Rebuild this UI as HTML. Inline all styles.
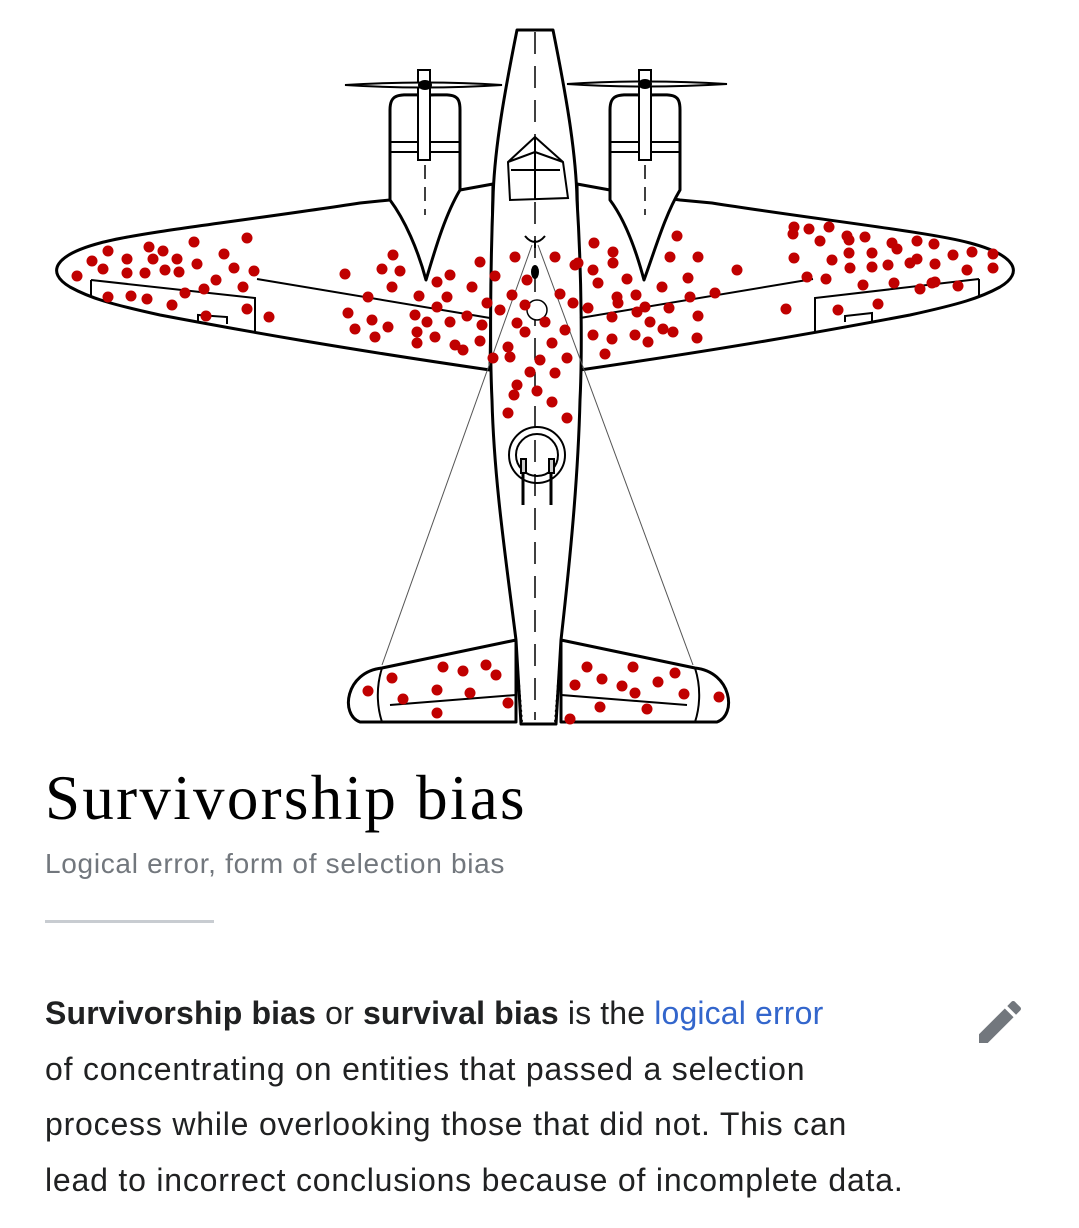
<!DOCTYPE html>
<html><head><meta charset="utf-8"><style>
html,body{margin:0;padding:0;background:#fff;width:1079px;height:1228px;overflow:hidden;position:relative}
svg{position:absolute;left:0;top:0}
.t{position:absolute;left:45px;top:767px;font-family:"Liberation Serif",serif;font-size:63px;color:#000;letter-spacing:2.3px;white-space:nowrap;line-height:1}
.s{position:absolute;left:45px;top:848px;font-family:"Liberation Sans",sans-serif;font-size:28px;color:#72777d;white-space:nowrap;letter-spacing:0.7px}
.d{position:absolute;left:45px;top:920px;width:169px;height:3px;background:#c8ccd1}
.p{position:absolute;left:45px;top:986px;font-family:"Liberation Sans",sans-serif;font-size:32px;line-height:55.5px;color:#202122;white-space:nowrap;letter-spacing:0.8px}
.p .l1{letter-spacing:0.15px}
.p b{font-weight:bold}.p a{color:#3366cc;text-decoration:none}
</style></head><body>
<svg width="1079" height="730" viewBox="0 0 1079 730">
<g fill="#fff" stroke="#000" stroke-width="3" stroke-linejoin="round">
<path d="M493,184 L460,190 L390,200 L360,203 C250,220 140,232 100,243 C55,255 45,272 70,287 C90,298 110,304 160,315 C250,332 340,348 490,370 Z"/>
<path d="M577,184 L610,190 L680,200 L712,203 C820,220 930,232 970,243 C1015,255 1025,272 1000,287 C980,298 960,304 910,315 C820,332 730,348 580,370 Z"/>
<path d="M516,640 L382,668 C345,672 340,715 360,722 L516,722 Z"/>
<path d="M561,640 L695,668 C732,672 737,715 717,722 L561,722 Z"/>
<path d="M517,30 L553,30 C565,90 576,150 577,200 C582,280 582,360 580,400 C578,480 570,560 561,640 L556,724 L521,724 L516,640 C506,560 494,480 492,400 C490,360 490,280 493,200 C494,150 505,90 517,30 Z"/>
<path d="M390,200 L390,110 C390,92 400,95 425,95 C452,95 460,92 460,110 L460,190 C445,215 435,250 426,280 C418,250 405,220 390,200 Z"/>
<path d="M610,200 L610,110 C610,92 620,95 645,95 C672,95 680,92 680,110 L680,190 C665,215 655,250 644,280 C636,250 625,220 610,200 Z"/>
</g>
<g fill="none" stroke="#000" stroke-width="2">
<line x1="390" y1="142" x2="460" y2="142"/><line x1="390" y1="152" x2="460" y2="152"/>
<line x1="610" y1="142" x2="680" y2="142"/><line x1="610" y1="152" x2="680" y2="152"/>
<rect x="418" y="70" width="12" height="90" fill="#fff"/><rect x="639" y="70" width="12" height="90" fill="#fff"/>
<path d="M345,85 Q425,80 502,85 Q425,90 345,85Z" fill="#fff"/>
<path d="M567,84 Q645,79 727,84 Q645,89 567,84Z" fill="#fff"/>
<path d="M91,280 L91,297 M91,280 L255,298 L255,332 M257,279 L490,318 M198,323 L198,315 L227,317 L227,324"/>
<path d="M979,279 L979,297 M979,279 L815,298 L815,332 M813,279 L580,318 M845,322 L845,316 L872,313 L872,321"/>
<path d="M508,162 L535,137 L563,162 L568,198 L510,200 Z M508,162 L535,152 L563,162 M535,137 L535,200 M511,170 L560,170"/>
<circle cx="537" cy="455" r="28"/><circle cx="537" cy="455" r="21"/>
<rect x="521" y="459" width="5" height="14" fill="#ccc"/><rect x="549" y="459" width="5" height="14" fill="#ccc"/>
<path d="M523,473 L523,505 M551,473 L551,505" stroke-width="3"/>
<path d="M382,668 C375,690 378,710 382,722 M695,668 C702,690 699,710 695,722"/>
<path d="M390,705 L516,695 L516,722 M687,705 L561,695 L561,722"/>
<path d="M516,645 L522,722 M561,645 L555,722" stroke-dasharray="2,3"/>
</g>
<g stroke="#000" stroke-width="1.5" fill="none">
<path d="M535,32 L535,720" stroke-dasharray="22,12"/>
<path d="M425,165 L425,215 M645,165 L645,215" stroke-dasharray="14,8"/>
</g>
<g stroke="#555" stroke-width="1" fill="none">
<line x1="532" y1="245" x2="382" y2="665"/><line x1="538" y1="245" x2="693" y2="665"/>
</g>
<circle cx="537" cy="310" r="10" fill="#fff" stroke="#000" stroke-width="1.5"/>
<ellipse cx="535" cy="272" rx="4" ry="7" fill="#000"/>
<path d="M525,236 Q535,248 545,236 M535,240 L535,248" stroke="#000" stroke-width="2" fill="none"/>
<ellipse cx="425" cy="85" rx="7" ry="5" fill="#000"/><ellipse cx="645" cy="84" rx="7" ry="5" fill="#000"/>
<g fill="#c00000">
<circle cx="77" cy="276" r="5.5"/><circle cx="92" cy="261" r="5.5"/><circle cx="103" cy="269" r="5.5"/><circle cx="108" cy="251" r="5.5"/><circle cx="127" cy="259" r="5.5"/><circle cx="127" cy="273" r="5.5"/><circle cx="145" cy="273" r="5.5"/><circle cx="149" cy="247" r="5.5"/><circle cx="153" cy="259" r="5.5"/><circle cx="163" cy="251" r="5.5"/><circle cx="165" cy="270" r="5.5"/><circle cx="177" cy="259" r="5.5"/><circle cx="179" cy="272" r="5.5"/><circle cx="194" cy="242" r="5.5"/><circle cx="197" cy="264" r="5.5"/><circle cx="216" cy="280" r="5.5"/><circle cx="224" cy="254" r="5.5"/><circle cx="234" cy="268" r="5.5"/><circle cx="247" cy="238" r="5.5"/><circle cx="254" cy="271" r="5.5"/><circle cx="243" cy="287" r="5.5"/><circle cx="247" cy="309" r="5.5"/><circle cx="269" cy="317" r="5.5"/><circle cx="206" cy="316" r="5.5"/><circle cx="204" cy="289" r="5.5"/><circle cx="185" cy="293" r="5.5"/><circle cx="172" cy="305" r="5.5"/><circle cx="147" cy="299" r="5.5"/><circle cx="131" cy="296" r="5.5"/><circle cx="108" cy="297" r="5.5"/>
<circle cx="345" cy="274" r="5.5"/><circle cx="348" cy="313" r="5.5"/><circle cx="355" cy="329" r="5.5"/><circle cx="393" cy="255" r="5.5"/><circle cx="382" cy="269" r="5.5"/><circle cx="400" cy="271" r="5.5"/><circle cx="392" cy="287" r="5.5"/><circle cx="368" cy="297" r="5.5"/><circle cx="372" cy="320" r="5.5"/><circle cx="375" cy="337" r="5.5"/><circle cx="388" cy="327" r="5.5"/><circle cx="419" cy="296" r="5.5"/><circle cx="437" cy="282" r="5.5"/><circle cx="450" cy="275" r="5.5"/><circle cx="447" cy="297" r="5.5"/><circle cx="437" cy="307" r="5.5"/><circle cx="415" cy="315" r="5.5"/><circle cx="427" cy="322" r="5.5"/><circle cx="417" cy="332" r="5.5"/><circle cx="417" cy="343" r="5.5"/><circle cx="435" cy="337" r="5.5"/><circle cx="450" cy="322" r="5.5"/><circle cx="455" cy="345" r="5.5"/><circle cx="463" cy="350" r="5.5"/><circle cx="467" cy="316" r="5.5"/><circle cx="472" cy="287" r="5.5"/><circle cx="480" cy="262" r="5.5"/><circle cx="482" cy="325" r="5.5"/><circle cx="480" cy="341" r="5.5"/><circle cx="487" cy="303" r="5.5"/><circle cx="495" cy="276" r="5.5"/><circle cx="500" cy="310" r="5.5"/><circle cx="493" cy="358" r="5.5"/><circle cx="510" cy="357" r="5.5"/><circle cx="508" cy="347" r="5.5"/><circle cx="515" cy="257" r="5.5"/><circle cx="512" cy="295" r="5.5"/><circle cx="517" cy="323" r="5.5"/><circle cx="525" cy="332" r="5.5"/><circle cx="527" cy="280" r="5.5"/><circle cx="525" cy="305" r="5.5"/><circle cx="545" cy="322" r="5.5"/><circle cx="560" cy="294" r="5.5"/><circle cx="555" cy="257" r="5.5"/><circle cx="573" cy="303" r="5.5"/><circle cx="565" cy="330" r="5.5"/><circle cx="552" cy="343" r="5.5"/><circle cx="567" cy="358" r="5.5"/><circle cx="540" cy="360" r="5.5"/><circle cx="530" cy="372" r="5.5"/><circle cx="555" cy="373" r="5.5"/>
<circle cx="517" cy="385" r="5.5"/><circle cx="537" cy="391" r="5.5"/><circle cx="514" cy="395" r="5.5"/><circle cx="508" cy="413" r="5.5"/><circle cx="552" cy="402" r="5.5"/><circle cx="567" cy="418" r="5.5"/>
<circle cx="575" cy="265" r="5.5"/><circle cx="578" cy="263" r="5.5"/><circle cx="594" cy="243" r="5.5"/><circle cx="613" cy="252" r="5.5"/><circle cx="613" cy="263" r="5.5"/><circle cx="593" cy="270" r="5.5"/><circle cx="598" cy="283" r="5.5"/><circle cx="627" cy="279" r="5.5"/><circle cx="588" cy="308" r="5.5"/><circle cx="612" cy="317" r="5.5"/><circle cx="617" cy="297" r="5.5"/><circle cx="618" cy="303" r="5.5"/><circle cx="636" cy="295" r="5.5"/><circle cx="637" cy="312" r="5.5"/><circle cx="645" cy="307" r="5.5"/><circle cx="650" cy="322" r="5.5"/><circle cx="662" cy="287" r="5.5"/><circle cx="669" cy="308" r="5.5"/><circle cx="677" cy="236" r="5.5"/><circle cx="670" cy="257" r="5.5"/><circle cx="698" cy="257" r="5.5"/><circle cx="688" cy="278" r="5.5"/><circle cx="690" cy="297" r="5.5"/><circle cx="698" cy="316" r="5.5"/><circle cx="715" cy="293" r="5.5"/><circle cx="737" cy="270" r="5.5"/><circle cx="593" cy="335" r="5.5"/><circle cx="612" cy="339" r="5.5"/><circle cx="635" cy="335" r="5.5"/><circle cx="648" cy="342" r="5.5"/><circle cx="663" cy="329" r="5.5"/><circle cx="673" cy="332" r="5.5"/><circle cx="697" cy="338" r="5.5"/><circle cx="605" cy="354" r="5.5"/>
<circle cx="794" cy="227" r="5.5"/><circle cx="793" cy="234" r="5.5"/><circle cx="809" cy="229" r="5.5"/><circle cx="829" cy="227" r="5.5"/><circle cx="820" cy="241" r="5.5"/><circle cx="794" cy="258" r="5.5"/><circle cx="807" cy="277" r="5.5"/><circle cx="826" cy="279" r="5.5"/><circle cx="832" cy="260" r="5.5"/><circle cx="847" cy="236" r="5.5"/><circle cx="849" cy="240" r="5.5"/><circle cx="865" cy="237" r="5.5"/><circle cx="849" cy="253" r="5.5"/><circle cx="850" cy="268" r="5.5"/><circle cx="872" cy="253" r="5.5"/><circle cx="872" cy="267" r="5.5"/><circle cx="888" cy="265" r="5.5"/><circle cx="892" cy="243" r="5.5"/><circle cx="897" cy="249" r="5.5"/><circle cx="910" cy="263" r="5.5"/><circle cx="917" cy="259" r="5.5"/><circle cx="917" cy="241" r="5.5"/><circle cx="934" cy="244" r="5.5"/><circle cx="935" cy="264" r="5.5"/><circle cx="953" cy="255" r="5.5"/><circle cx="972" cy="252" r="5.5"/><circle cx="993" cy="254" r="5.5"/><circle cx="993" cy="268" r="5.5"/><circle cx="967" cy="270" r="5.5"/><circle cx="863" cy="285" r="5.5"/><circle cx="894" cy="283" r="5.5"/><circle cx="920" cy="289" r="5.5"/><circle cx="932" cy="283" r="5.5"/><circle cx="935" cy="282" r="5.5"/><circle cx="958" cy="286" r="5.5"/><circle cx="786" cy="309" r="5.5"/><circle cx="838" cy="310" r="5.5"/><circle cx="878" cy="304" r="5.5"/>
<circle cx="368" cy="691" r="5.5"/><circle cx="392" cy="678" r="5.5"/><circle cx="403" cy="699" r="5.5"/><circle cx="437" cy="690" r="5.5"/><circle cx="443" cy="667" r="5.5"/><circle cx="463" cy="671" r="5.5"/><circle cx="470" cy="693" r="5.5"/><circle cx="486" cy="665" r="5.5"/><circle cx="496" cy="675" r="5.5"/><circle cx="508" cy="703" r="5.5"/><circle cx="437" cy="713" r="5.5"/><circle cx="587" cy="667" r="5.5"/><circle cx="602" cy="679" r="5.5"/><circle cx="575" cy="685" r="5.5"/><circle cx="622" cy="686" r="5.5"/><circle cx="633" cy="667" r="5.5"/><circle cx="635" cy="693" r="5.5"/><circle cx="658" cy="682" r="5.5"/><circle cx="675" cy="673" r="5.5"/><circle cx="684" cy="694" r="5.5"/><circle cx="719" cy="697" r="5.5"/><circle cx="600" cy="707" r="5.5"/><circle cx="647" cy="709" r="5.5"/><circle cx="570" cy="719" r="5.5"/>
</g>
</svg>
<div class="t">Survivorship bias</div>
<div class="s">Logical error, form of selection bias</div>
<div class="d"></div>
<div class="p"><span class="l1"><b>Survivorship bias</b> or <b>survival bias</b> is the <a>logical error</a></span><br>of concentrating on entities that passed a selection<br>process while overlooking those that did not. This can<br>lead to incorrect conclusions because of incomplete data.</div>
<svg style="left:972px;top:994px" width="56" height="56" viewBox="0 0 24 24"><path fill="#72777d" d="M3 17.25V21h3.75L17.81 9.94l-3.75-3.75L3 17.25zM20.71 7.04a1 1 0 000-1.41l-2.34-2.34a1 1 0 00-1.41 0l-1.83 1.83 3.75 3.75 1.83-1.83z"/></svg>
</body></html>
